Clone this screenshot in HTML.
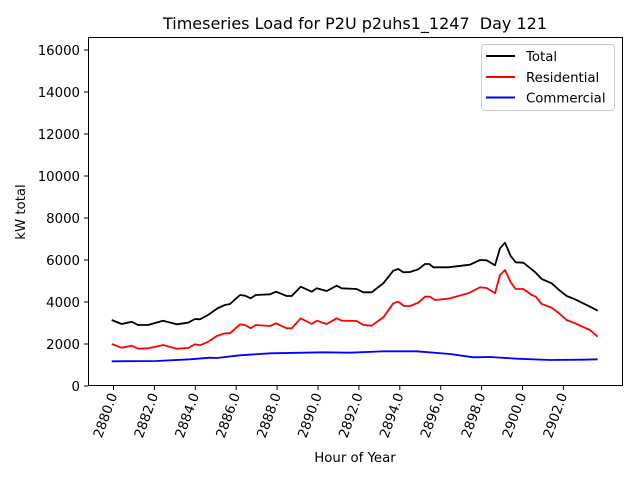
<!DOCTYPE html>
<html><head><meta charset="utf-8"><style>body{margin:0;background:#fff}svg{display:block}text{font-family:"DejaVu Sans","Liberation Sans",sans-serif;fill:#000}</style></head><body>
<svg width="640" height="480" viewBox="0 0 640 480" xmlns="http://www.w3.org/2000/svg">
<rect width="640" height="480" fill="#fff"/>
<text x="355" y="29" font-size="16" text-anchor="middle" style="white-space:pre" xml:space="preserve">Timeseries Load for P2U p2uhs1_1247  Day 121</text>
<g fill="none" stroke-width="1.8" stroke-linejoin="round">
<polyline stroke="#0000ff" points="111.7,361.3 156.7,361 190,359.3 210,357.7 216.7,358 240,355.3 270,353.3 323.3,352.3 350,352.7 383.3,351.3 416.7,351.3 450,354 473.3,357.3 490,357 516.7,358.7 550,360 583.3,359.7 597.7,359.3"/>
<polyline stroke="#ff0000" points="111.7,344 121.7,347.7 131.7,345.7 138.3,348.7 148.3,348.3 163.3,345 176.7,348.7 188.3,348 195,344.3 200,345.3 208.3,341.7 216.7,336 225,333.3 230,333.3 240,324.3 245,325 250.7,328.3 255.7,325 270,326 276,323.3 286.7,328.3 291.7,328.3 300.7,318.3 311.7,324 316.7,320.7 326.7,324 336.7,318.3 341.7,320.7 356.7,321 363.3,325 371.7,325.7 383.3,317.3 393.3,303.3 398.3,301.7 404,306 410,306 418.3,302.7 425,296.7 430,296.7 435,300 448.3,298.7 468.3,293.3 480,287.3 486.7,288 495,293.3 500,275 505,270 510.7,282.3 515.7,289 523.3,289 531.7,295 535.7,296.7 541.7,304 551.7,307.7 558.3,312.7 566.7,320 575,323.3 590,330 597.7,336.7"/>
<polyline stroke="#000" points="111.7,320 121.7,324 131.7,321.7 138,325 148,325 163,320.7 176.7,324.3 188,322.7 195,319 200,319.3 208,315 218,308 225,305 230,304 240,295 245,295.7 250.7,298.3 255.7,295 270,294.3 276,291.7 286.7,296 291.7,296 300.7,286.7 311.7,291.7 316.7,288.3 326.7,291 336.7,285.7 341.7,288.3 356.7,289 363.3,292.3 371.7,292.3 383.3,283.3 393.3,270.7 398.3,269 403.3,272.3 410,272 418.3,269.3 425,264 429.3,264 433.3,267.3 448.3,267.3 470,264.7 480,260 486.7,260.3 495,265.3 500,248.3 505,242.7 510.7,256 515.7,262.3 523.3,262.7 531.7,269.3 535.7,272.7 541.7,279 551.7,283.3 558.3,289.3 566.7,296 575,299.3 590,306.7 597.7,310.7"/>
</g>
<rect x="88.5" y="37.5" width="534" height="348" fill="none" stroke="#000" stroke-width="1"/>
<g stroke="#000" stroke-width="1">
<line x1="84" x2="88" y1="386" y2="386"/><line x1="84" x2="88" y1="344" y2="344"/><line x1="84" x2="88" y1="302" y2="302"/><line x1="84" x2="88" y1="260" y2="260"/><line x1="84" x2="88" y1="218" y2="218"/><line x1="84" x2="88" y1="176" y2="176"/><line x1="84" x2="88" y1="134" y2="134"/><line x1="84" x2="88" y1="92" y2="92"/><line x1="84" x2="88" y1="50" y2="50"/>
</g>
<g font-size="13.3" text-anchor="end">
<text x="80" y="391">0</text><text x="80" y="349">2000</text><text x="80" y="307">4000</text><text x="80" y="265">6000</text><text x="80" y="223">8000</text><text x="80" y="181">10000</text><text x="80" y="139">12000</text><text x="80" y="97">14000</text><text x="80" y="55">16000</text>
</g>
<g stroke="#000" stroke-width="1">
<line x1="113.5" x2="113.5" y1="386" y2="390"/><line x1="154.4" x2="154.4" y1="386" y2="390"/><line x1="195.3" x2="195.3" y1="386" y2="390"/><line x1="236.2" x2="236.2" y1="386" y2="390"/><line x1="277.1" x2="277.1" y1="386" y2="390"/><line x1="318" x2="318" y1="386" y2="390"/><line x1="358.9" x2="358.9" y1="386" y2="390"/><line x1="399.8" x2="399.8" y1="386" y2="390"/><line x1="440.7" x2="440.7" y1="386" y2="390"/><line x1="481.6" x2="481.6" y1="386" y2="390"/><line x1="522.5" x2="522.5" y1="386" y2="390"/><line x1="563.4" x2="563.4" y1="386" y2="390"/>
</g>
<g font-size="13.3" text-anchor="end">
<text transform="translate(117.5,395) rotate(-70)">2880.0</text>
<text transform="translate(158.4,395) rotate(-70)">2882.0</text>
<text transform="translate(199.3,395) rotate(-70)">2884.0</text>
<text transform="translate(240.2,395) rotate(-70)">2886.0</text>
<text transform="translate(281.1,395) rotate(-70)">2888.0</text>
<text transform="translate(322,395) rotate(-70)">2890.0</text>
<text transform="translate(362.9,395) rotate(-70)">2892.0</text>
<text transform="translate(403.8,395) rotate(-70)">2894.0</text>
<text transform="translate(444.7,395) rotate(-70)">2896.0</text>
<text transform="translate(485.6,395) rotate(-70)">2898.0</text>
<text transform="translate(526.5,395) rotate(-70)">2900.0</text>
<text transform="translate(567.4,395) rotate(-70)">2902.0</text>
</g>
<text x="355" y="462" font-size="13.3" text-anchor="middle">Hour of Year</text>
<text transform="translate(25,212) rotate(-90)" font-size="13.3" text-anchor="middle">kW total</text>
<rect x="481.5" y="44.5" width="133" height="66" rx="3" fill="#fff" fill-opacity="0.8" stroke="#ccc"/>
<line x1="486" x2="515" y1="56" y2="56" stroke="#000" stroke-width="2"/>
<line x1="486" x2="515" y1="77" y2="77" stroke="#ff0000" stroke-width="2"/>
<line x1="486" x2="515" y1="97.5" y2="97.5" stroke="#0000ff" stroke-width="2"/>
<g font-size="13.3"><text x="526" y="61">Total</text><text x="526" y="82">Residential</text><text x="526" y="102.5">Commercial</text></g>
</svg>
</body></html>
